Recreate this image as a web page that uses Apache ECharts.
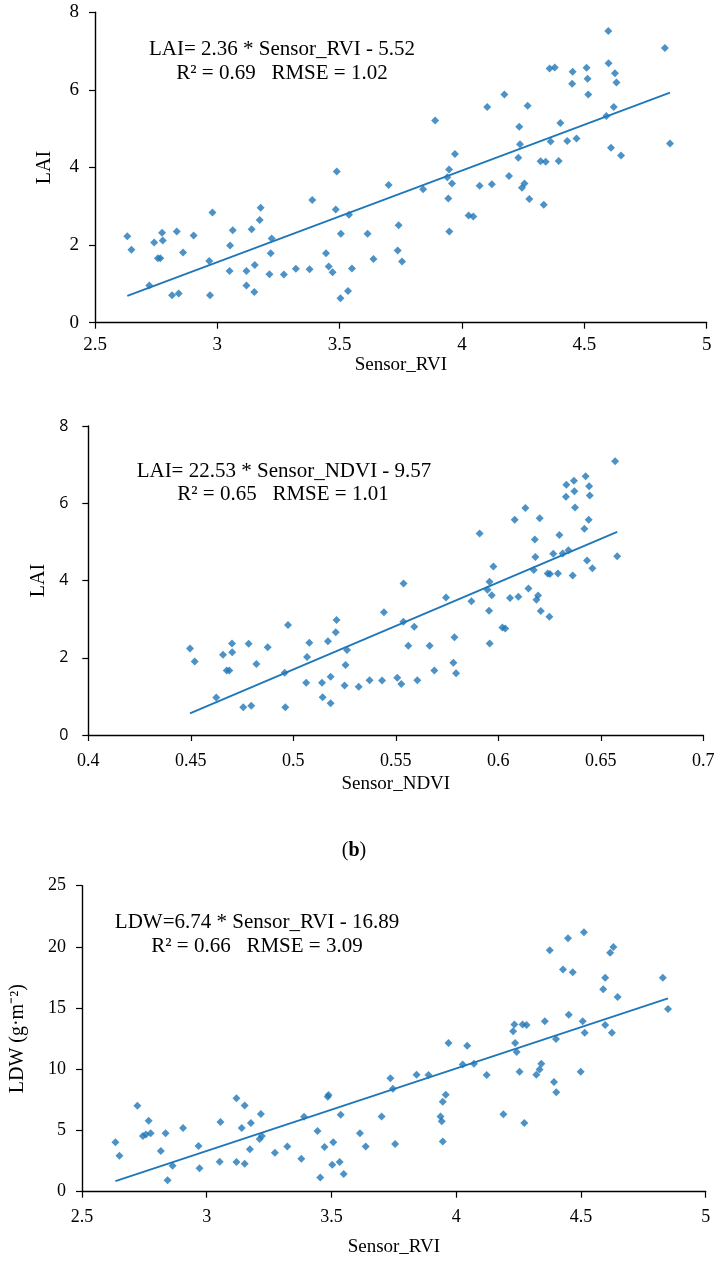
<!DOCTYPE html>
<html><head><meta charset="utf-8">
<script src="https://cdn.jsdelivr.net/npm/echarts@6/dist/echarts.min.js"></script>
<style>html,body{margin:0;padding:0;background:#fff}#c{width:722px;height:1263px}</style>
</head><body><div id="c"></div>
<script>
// Chart (a): LAI vs Sensor_RVI
const rviA = [2.632,2.649,2.722,2.742,2.774,2.777,2.757,2.767,2.815,2.834,2.842,2.860,2.903,2.967,2.970,2.980,3.052,3.050,3.063,3.119,3.119,3.140,3.153,3.151,3.173,3.177,3.213,3.218,3.222,3.272,3.321,3.377,3.388,3.444,3.455,3.471,3.484,3.488,3.503,3.505,3.534,3.538,3.550,3.614,3.638,3.700,3.737,3.741,3.755,3.841,3.890,3.940,3.947,3.944,3.948,3.959,3.971,4.027,4.046,4.072,4.103,4.122,4.173,4.192,4.230,4.234,4.237,4.245,4.255,4.268,4.275,4.321,4.334,4.342,4.358,4.379,4.362,4.395,4.402,4.430,4.450,4.452,4.468,4.509,4.513,4.516,4.590,4.598,4.599,4.609,4.620,4.625,4.631,4.650,4.829,4.850];
const laiA = [2.23,1.88,0.96,2.07,2.32,2.12,1.66,1.66,0.71,2.35,0.75,1.81,2.25,1.59,0.71,2.84,1.99,1.33,2.38,1.33,0.96,2.41,1.49,0.79,2.65,2.96,1.25,1.79,2.17,1.24,1.39,1.38,3.16,1.79,1.45,1.30,2.92,3.90,0.63,2.29,0.82,2.78,1.40,2.29,1.64,3.55,1.86,2.51,1.58,3.44,5.21,3.75,3.95,3.20,2.35,3.59,4.35,2.76,2.74,3.53,5.56,3.57,5.88,3.78,4.25,5.05,4.60,3.48,3.59,5.59,3.19,4.16,3.04,4.15,6.55,6.58,4.67,4.17,5.15,4.68,6.16,6.47,4.75,6.57,6.29,5.88,5.33,7.52,6.69,4.51,5.56,6.43,6.19,4.31,7.08,4.62];
const trendAx = [2.632, 4.850];
const trendAy = [0.69, 5.93];

// Chart (b): LAI vs Sensor_NDVI
const ndviB = [0.4496,0.4519,0.4624,0.4657,0.4675,0.4688,0.4701,0.4702,0.4756,0.4782,0.4795,0.4820,0.4875,0.4958,0.4961,0.4974,0.5063,0.5067,0.5078,0.5140,0.5143,0.5169,0.5182,0.5182,0.5207,0.5211,0.5250,0.5255,0.5262,0.5319,0.5372,0.5433,0.5442,0.5507,0.5527,0.5538,0.5537,0.5561,0.5590,0.5605,0.5665,0.5688,0.5745,0.5781,0.5786,0.5794,0.5869,0.5909,0.5947,0.5957,0.5968,0.5955,0.5958,0.5976,0.6020,0.6034,0.6057,0.6080,0.6098,0.6132,0.6147,0.6173,0.6178,0.6181,0.6186,0.6194,0.6202,0.6207,0.6241,0.6252,0.6249,0.6268,0.6291,0.6298,0.6314,0.6330,0.6332,0.6342,0.6363,0.6369,0.6371,0.6374,0.6420,0.6426,0.6433,0.6441,0.6443,0.6446,0.6459,0.6570,0.6580];
const laiB = [2.24,1.90,0.97,2.08,1.67,1.67,2.37,2.14,0.72,2.36,0.76,1.84,2.27,1.61,0.72,2.85,1.35,2.02,2.39,1.35,0.98,2.43,1.51,0.82,2.66,2.98,1.28,1.81,2.20,1.25,1.42,1.41,3.18,1.48,1.32,3.92,2.93,2.31,2.80,1.42,2.31,1.67,3.56,1.87,2.53,1.60,3.46,5.22,3.76,3.97,3.62,3.22,2.37,4.36,2.78,2.76,3.55,5.57,3.58,5.88,3.79,4.27,5.06,4.61,3.50,3.61,5.61,3.21,4.18,4.17,3.06,4.69,4.18,5.18,4.70,6.17,6.48,4.78,4.13,6.58,6.31,5.89,5.34,6.70,4.52,5.57,6.44,6.20,4.32,7.09,4.63];
const trendBx = [0.4496, 0.6580];
const trendBy = [0.56, 5.26];

// Chart (c): LDW vs Sensor_RVI
const rviC = [2.634,2.650,2.722,2.744,2.756,2.767,2.775,2.816,2.835,2.843,2.863,2.905,2.967,2.971,3.052,3.055,3.119,3.119,3.140,3.152,3.152,3.173,3.177,3.212,3.217,3.221,3.273,3.323,3.379,3.390,3.444,3.455,3.472,3.485,3.488,3.507,3.503,3.533,3.537,3.549,3.614,3.637,3.701,3.736,3.746,3.755,3.841,3.889,3.937,3.942,3.946,3.958,3.946,3.969,4.026,4.044,4.071,4.122,4.189,4.228,4.233,4.236,4.242,4.254,4.266,4.282,4.273,4.321,4.334,4.341,4.355,4.375,4.392,4.400,4.401,4.428,4.448,4.451,4.467,4.499,4.507,4.512,4.515,4.589,4.597,4.597,4.617,4.624,4.630,4.647,4.828,4.849];
const ldwC = [4.03,2.94,7.03,4.55,4.68,5.80,4.77,3.32,4.77,0.93,2.12,5.20,3.73,1.91,2.45,5.69,7.63,2.42,5.20,7.05,2.29,3.46,5.61,4.30,6.35,4.55,3.19,3.70,2.70,6.13,4.96,1.17,3.65,7.76,7.90,4.03,2.21,2.42,6.29,1.44,4.77,3.70,6.15,9.26,8.41,3.89,9.56,9.53,6.15,5.75,7.35,7.92,4.11,12.15,10.40,11.93,10.46,9.53,6.32,13.10,13.67,12.15,11.41,9.80,13.67,13.62,5.61,9.56,9.99,10.46,13.92,19.72,8.96,12.47,8.12,18.16,20.70,14.46,17.92,9.80,13.92,21.19,12.99,16.53,17.48,13.62,19.53,12.99,19.99,15.90,17.48,14.92];
const trendCx = [2.634, 4.849];
const trendCy = [0.86, 15.80];

const xTicksRVI = ['2.5','3','3.5','4','4.5','5'];
const yTicksLAI = ['0','2','4','6','8'];
const yTicksLDW = ['0','5','10','15','20','25'];
const xTicksNDVI = ['0.4','0.45','0.5','0.55','0.6','0.65','0.7'];

const SERIF = '"Liberation Serif","Times New Roman",serif';
const SANS = '"Open Sans","Noto Sans",sans-serif';
const BLUE = '#1f77b8';

function zip(a, b) { return a.map((v, i) => [v, b[i]]); }

function xAxis(gi, min, max, interval, name, labelSize, labelMargin, nameGap) {
  return {
    type: 'value', gridIndex: gi, min: min, max: max, interval: interval,
    name: name, nameLocation: 'middle', nameGap: nameGap,
    nameTextStyle: { fontFamily: SERIF, fontSize: 19, color: '#000' },
    axisLine: { show: true, onZero: false, lineStyle: { color: '#000', width: 1.4 } },
    axisTick: { show: true, inside: false, length: 6, lineStyle: { color: '#000', width: 1.2 } },
    axisLabel: { fontFamily: SERIF, fontSize: labelSize, color: '#000', margin: labelMargin,
      formatter: function (v) { return String(+v.toFixed(2)); } },
    splitLine: { show: false }
  };
}
function yAxis(gi, min, max, interval, name, labelFont, labelSize, labelMargin, nameGap) {
  return {
    type: 'value', gridIndex: gi, min: min, max: max, interval: interval,
    name: name, nameLocation: 'middle', nameGap: nameGap, nameRotate: 90,
    nameTextStyle: { fontFamily: SERIF, fontSize: 20, color: '#000' },
    axisLine: { show: true, onZero: false, lineStyle: { color: '#000', width: 1.4 } },
    axisTick: { show: true, inside: false, length: 6, lineStyle: { color: '#000', width: 1.2 } },
    axisLabel: { fontFamily: labelFont, fontSize: labelSize, color: '#000', margin: labelMargin },
    splitLine: { show: false }
  };
}
function scatter(gi, data) {
  return { type: 'scatter', xAxisIndex: gi, yAxisIndex: gi, data: data,
    symbol: 'diamond', symbolSize: 8, itemStyle: { color: BLUE }, silent: true, z: 3 };
}
function trend(gi, data) {
  return { type: 'line', xAxisIndex: gi, yAxisIndex: gi, data: data,
    showSymbol: false, symbol: 'none', lineStyle: { color: BLUE, width: 1.8 }, silent: true, z: 2 };
}
function txt(x, y, text, size) {
  return { type: 'text', x: x, y: y, style: { text: text, fontFamily: SERIF, fontSize: size,
    fill: '#000', align: 'center', verticalAlign: 'middle' } };
}

const chart = echarts.init(document.getElementById('c'), null, { renderer: 'canvas' });
chart.setOption({
  animation: false,
  backgroundColor: '#fff',
  grid: [
    { left: 95, top: 12.3, width: 611.7, height: 310.4 },
    { left: 88.3, top: 426, width: 615, height: 309 },
    { left: 78.3, top: 885.7, width: 627.4, height: 306 }
  ],
  xAxis: [
    xAxis(0, 2.5, 5, 0.5, 'Sensor_RVI', 19, 13, 33),
    xAxis(1, 0.4, 0.7, 0.05, 'Sensor_NDVI', 18, 17, 40),
    xAxis(2, 2.5, 5, 0.5, 'Sensor_RVI', 18, 17, 46)
  ],
  yAxis: [
    yAxis(0, 0, 8, 2, 'LAI', SERIF, 19, 16, 40),
    yAxis(1, 0, 8, 2, 'LAI', SANS, 16, 20, 40),
    yAxis(2, 0, 25, 5, 'LDW (g·m⁻²)', SERIF, 18, 16, 54)
  ],
  series: [
    scatter(0, zip(rviA, laiA)), trend(0, zip(trendAx, trendAy)),
    scatter(1, zip(ndviB, laiB)), trend(1, zip(trendBx, trendBy)),
    scatter(2, zip(rviC, ldwC)), trend(2, zip(trendCx, trendCy))
  ],
  graphic: [
    txt(282, 49, 'LAI= 2.36 * Sensor_RVI - 5.52', 21),
    txt(282, 73, 'R² = 0.69   RMSE = 1.02', 21),
    txt(284, 471, 'LAI= 22.53 * Sensor_NDVI - 9.57', 21),
    txt(283, 494, 'R² = 0.65   RMSE = 1.01', 21),
    txt(257, 922, 'LDW=6.74 * Sensor_RVI - 16.89', 21),
    txt(257, 946, 'R² = 0.66   RMSE = 3.09', 21),
    { type: 'text', x: 354, y: 851, style: {
        text: '{p|(}{b|b}{p|)}', align: 'center', verticalAlign: 'middle',
        rich: { p: { fontFamily: SERIF, fontSize: 20, fill: '#000' },
                b: { fontFamily: SERIF, fontSize: 20, fontWeight: 'bold', fill: '#000' } } } }
  ]
});
</script></body></html>
